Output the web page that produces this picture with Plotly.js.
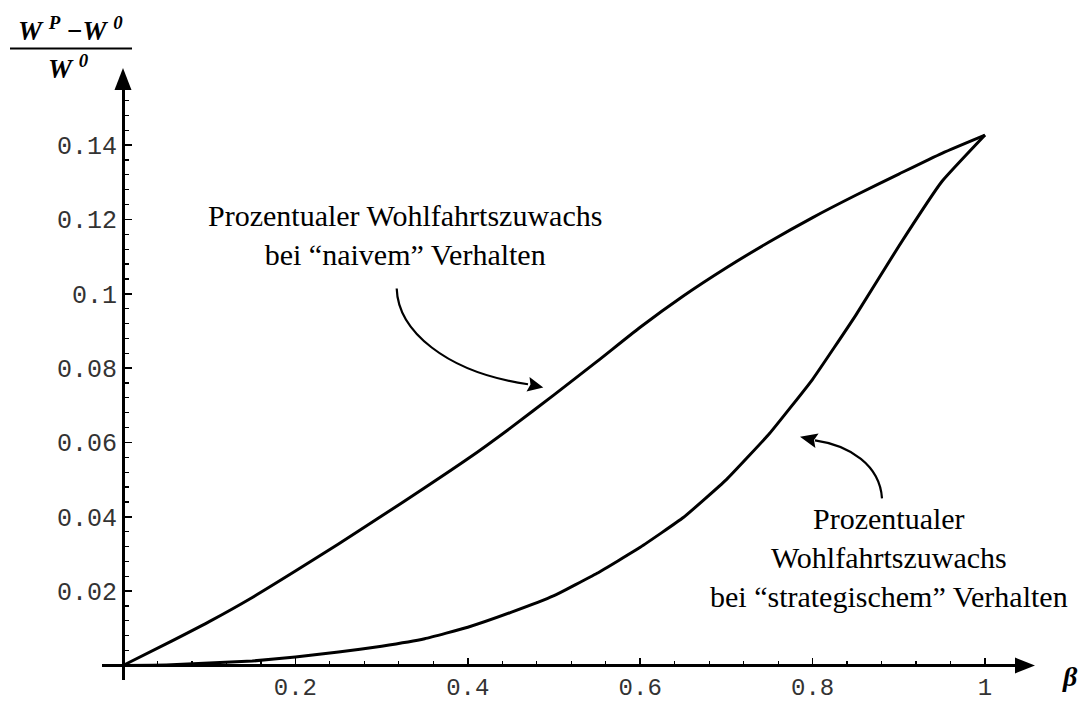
<!DOCTYPE html>
<html>
<head>
<meta charset="utf-8">
<script src="https://cdn.plot.ly/plotly-3.0.1.min.js"></script>
<style>
  html, body { margin: 0; padding: 0; background: #fff; }
  #chart { width: 1085px; height: 704px; }
</style>
</head>
<body>
<div id="chart"></div>
<script>
// ---- data ----
const naiveX = [0, 0.05, 0.1, 0.15, 0.2, 0.25, 0.3, 0.35, 0.4, 0.45, 0.5, 0.55, 0.6, 0.65, 0.7, 0.75, 0.8, 0.85, 0.9, 0.95, 1.0];
const naiveY = [0, 0.0058, 0.0118, 0.0183, 0.0254, 0.0327, 0.0402, 0.0478, 0.0556, 0.0640, 0.0728, 0.0818, 0.0910, 0.0994, 0.1070, 0.1140, 0.1205, 0.1265, 0.1322, 0.1378, 0.1427];
const strategicX = [0, 0.05, 0.1, 0.15, 0.2, 0.25, 0.3, 0.35, 0.4, 0.45, 0.5, 0.55, 0.6, 0.65, 0.7, 0.75, 0.8, 0.85, 0.9, 0.95, 1.0];
const strategicY = [0, 0.0001, 0.0007, 0.0012, 0.0023, 0.0036, 0.0052, 0.0072, 0.0103, 0.0143, 0.0188, 0.0248, 0.0318, 0.0398, 0.0500, 0.0624, 0.0770, 0.0942, 0.1128, 0.1302, 0.1427];
const xTickVals = [0.2, 0.4, 0.6, 0.8, 1];
const xTickText = ["0.2", "0.4", "0.6", "0.8", "1"];
const yTickVals = [0.02, 0.04, 0.06, 0.08, 0.1, 0.12, 0.14];
const yTickText = ["0.02", "0.04", "0.06", "0.08", "0.1", "0.12", "0.14"];
const labelNaive = "Prozentualer Wohlfahrtszuwachs<br>bei “naivem” Verhalten";
const labelStrategic = "Prozentualer<br>Wohlfahrtszuwachs<br>bei “strategischem” Verhalten";

// ---- geometry ----
const W = 1085, H = 704;
const L = 102, R = 1017, T = 88, B = 680;
const X0PX = 123, XSCALE = 862;   // px of x=0, px per unit
const Y0PX = 665, YSCALE = 3714;  // px of y=0, px per unit
const xr = [(L - X0PX) / XSCALE, (R - X0PX) / XSCALE];
const yr = [(Y0PX - B + 0.5) / YSCALE, (Y0PX - T) / YSCALE];
const px2x = px => (px - X0PX) / XSCALE;
const px2y = py => (Y0PX - py) / YSCALE;
const pxp = px => (px - L) / (R - L);
const pyp = py => (B - py) / (B - T);

function conv(pts, fx, fy) {
  return pts.map(p => p[0] + p.slice(1).reduce((acc, v, i) => {
    const s = (i % 2 === 0) ? fx(v) : fy(v);
    return acc + (i ? (i % 2 ? ',' : ' ') : '') + s.toFixed(5);
  }, '')).join(' ');
}
const pathData = pts => conv(pts, px2x, px2y);
const pathPaper = pts => conv(pts, pxp, pyp);

const traces = [
  { x: naiveX, y: naiveY, mode: 'lines', line: { color: '#000', width: 3, shape: 'spline', smoothing: 0.6 }, hoverinfo: 'skip', name: 'naiv' },
  { x: strategicX, y: strategicY, mode: 'lines', line: { color: '#000', width: 3, shape: 'spline', smoothing: 0.35 }, hoverinfo: 'skip', name: 'strategisch' }
];

const mono = 'Liberation Mono, DejaVu Sans Mono, monospace';

const shapes = [
  // curved arrow to naive curve
  { type: 'path', xref: 'x', yref: 'y', line: { color: '#000', width: 2.2 },
    path: pathData([['M', 396.7, 288.3], ['C', 398, 330, 445, 372, 528, 384]]) },
  { type: 'path', xref: 'x', yref: 'y', line: { width: 0 }, fillcolor: '#000',
    path: pathData([['M', 543.3, 387.3], ['L', 526.5, 391.3], ['L', 530.5, 384.3], ['L', 529.5, 376.8]]) + ' Z' },
  // curved arrow to strategic curve
  { type: 'path', xref: 'x', yref: 'y', line: { color: '#000', width: 2.2 },
    path: pathData([['M', 882, 498], ['C', 880, 465, 850, 445, 815, 440]]) },
  { type: 'path', xref: 'x', yref: 'y', line: { width: 0 }, fillcolor: '#000',
    path: pathData([['M', 800, 436.5], ['L', 818.6, 433.2], ['L', 814, 439.8], ['L', 815.4, 447.8]]) + ' Z' },
  // axis arrowheads
  { type: 'path', xref: 'paper', yref: 'paper', line: { width: 0 }, fillcolor: '#000',
    path: pathPaper([['M', 1035, 665.5], ['L', 1015, 657.5], ['L', 1015, 673.5]]) + ' Z' },
  { type: 'path', xref: 'paper', yref: 'paper', line: { width: 0 }, fillcolor: '#000',
    path: pathPaper([['M', 123, 68], ['L', 114.5, 90], ['L', 131.5, 90]]) + ' Z' },
  // fraction bar of the y title
  { type: 'line', xref: 'paper', yref: 'paper', x0: pxp(10), x1: pxp(132), y0: pyp(48.5), y1: pyp(48.5),
    line: { color: '#000', width: 2 } }
];

const serif = 'Liberation Serif, Times New Roman, serif';
const annotations = [
  { xref: 'paper', yref: 'paper', x: pxp(405), y: pyp(235), xanchor: 'center', yanchor: 'middle',
    text: labelNaive, showarrow: false, align: 'center', font: { family: serif, size: 30, color: '#000' } },
  { xref: 'paper', yref: 'paper', x: pxp(889), y: pyp(557.5), xanchor: 'center', yanchor: 'middle',
    text: labelStrategic, showarrow: false, align: 'center', font: { family: serif, size: 30, color: '#000' } },
  { xref: 'paper', yref: 'paper', x: pxp(70), y: pyp(29), xanchor: 'center', yanchor: 'middle',
    text: '<b><i>W</i></b> <sup><b><i>P</i></b></sup> <b>−</b><b><i>W</i></b> <sup><b><i>0</i></b></sup>', showarrow: false,
    font: { family: serif, size: 27, color: '#000' } },
  { xref: 'paper', yref: 'paper', x: pxp(68), y: pyp(67), xanchor: 'center', yanchor: 'middle',
    text: '<b><i>W</i></b> <sup><b><i>0</i></b></sup>', showarrow: false,
    font: { family: serif, size: 27, color: '#000' } },
  { xref: 'paper', yref: 'paper', x: pxp(1070), y: pyp(676), xanchor: 'center', yanchor: 'middle',
    text: '<b><i>β</i></b>', showarrow: false,
    font: { family: serif, size: 28, color: '#000' } }
];

const layout = {
  width: W, height: H,
  margin: { l: L, r: W - R, t: T, b: H - B, pad: 0 },
  paper_bgcolor: '#fff', plot_bgcolor: '#fff',
  showlegend: false,
  xaxis: {
    range: xr, anchor: 'free', position: pyp(Y0PX),
    showline: true, linecolor: '#000', linewidth: 3,
    showgrid: false, zeroline: false,
    ticks: 'inside', ticklen: 6, tickwidth: 1.5, tickcolor: '#000',
    tickmode: 'array', tickvals: xTickVals, ticktext: xTickText,
    tickfont: { family: mono, size: 24, color: '#333' }, ticklabelstandoff: -1,
    minor: { tickmode: 'linear', tick0: 0, dtick: 0.04, ticks: 'inside', ticklen: 3, tickwidth: 1.2, tickcolor: '#000', showgrid: false },
    fixedrange: true
  },
  yaxis: {
    range: yr, anchor: 'free', position: pxp(X0PX),
    showline: true, linecolor: '#000', linewidth: 3,
    showgrid: false, zeroline: false,
    ticks: 'inside', ticklen: 7, tickwidth: 1.5, tickcolor: '#000',
    tickmode: 'array', tickvals: yTickVals, ticktext: yTickText,
    tickfont: { family: mono, size: 25, color: '#333' },
    minor: { tickmode: 'linear', tick0: 0, dtick: 0.004, ticks: 'inside', ticklen: 4, tickwidth: 1.2, tickcolor: '#000', showgrid: false },
    fixedrange: true
  },
  shapes: shapes,
  annotations: annotations
};

Plotly.newPlot('chart', traces, layout, { displayModeBar: false, staticPlot: true });
</script>
</body>
</html>
